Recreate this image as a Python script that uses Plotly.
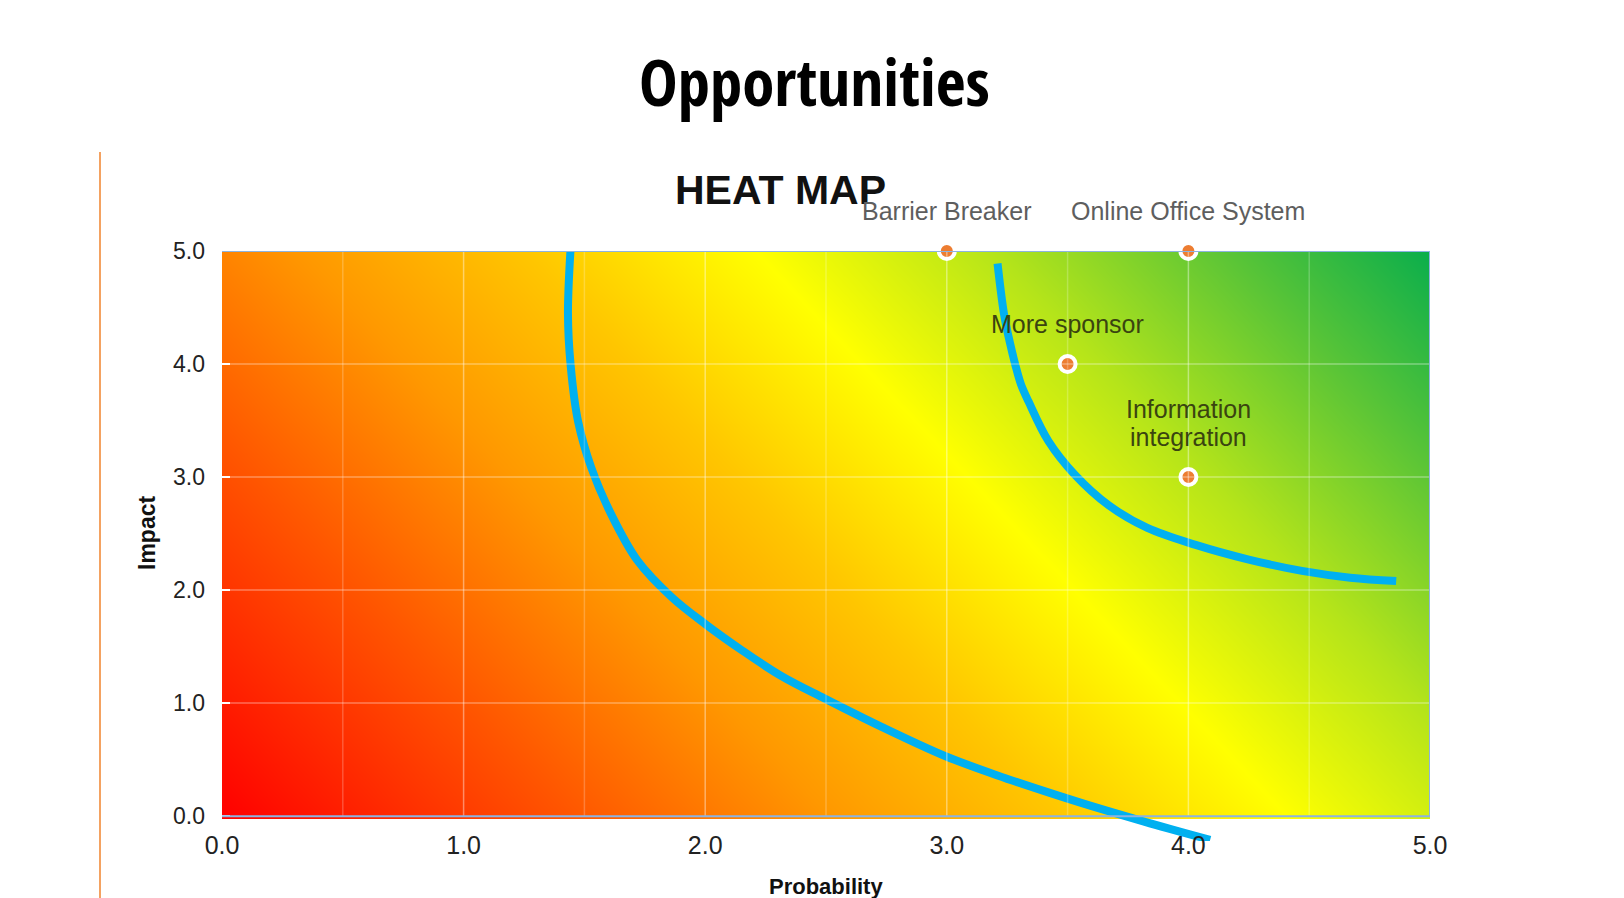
import numpy as np
import plotly.graph_objects as go

# Risk points (probability, impact)
point_names = ["Barrier Breaker", "Online Office System", "More sponsor", "Information<br>integration"]
point_prob = [3.0, 4.0, 3.5, 4.0]
point_impact = [5.0, 5.0, 4.0, 3.0]

# Hand drawn threshold curves
curve_low_x = [1.443, 1.432, 1.443, 1.474, 1.529, 1.611, 1.72, 1.86, 2.00, 2.15, 2.315, 2.495, 2.73,
               2.995, 3.21, 3.42, 3.59, 3.82, 4.09]
curve_low_y = [5.03, 4.44, 3.99, 3.49, 3.08, 2.67, 2.26, 1.94, 1.70, 1.47, 1.24, 1.04, 0.79,
               0.53, 0.36, 0.21, 0.095, -0.05, -0.21]
curve_high_x = [3.21, 3.237, 3.26, 3.284, 3.307, 3.338, 3.42, 3.53, 3.67, 3.83, 4.03, 4.25, 4.47, 4.67, 4.86]
curve_high_y = [4.89, 4.44, 4.20, 3.99, 3.82, 3.67, 3.32, 3.02, 2.75, 2.55, 2.40, 2.27, 2.17, 2.11, 2.08]

x_ticks = [0, 1, 2, 3, 4, 5]
y_ticks = [0, 1, 2, 3, 4, 5]

W, H = 1624, 898
L, R, T, B = 214, 202, 243, 65
Y_MIN, Y_MAX = -0.22, 5.0


def px(x):
    return (x - L) / (W - L - R)


def py(y):
    return (H - B - y) / (H - T - B)


# background gradient: red bottom-left -> yellow -> green top-right
gx = np.linspace(0, 5, 101)
gy = np.linspace(0, 5, 101)
gz = gx[None, :] + 0.44 * gy[:, None]

fig = go.Figure()
fig.add_trace(go.Heatmap(
    x=gx, y=gy, z=gz, zsmooth="best", showscale=False, hoverinfo="skip",
    colorscale=[
        [0.0, "#FF0000"], [0.2, "#FF5500"], [0.35, "#FF9800"], [0.48, "#FFC600"],
        [0.612, "#FFFF00"], [0.75, "#B4E41A"], [0.88, "#5CC536"], [1.0, "#0AAE4C"],
    ],
))

for cx, cy in [(curve_low_x, curve_low_y), (curve_high_x, curve_high_y)]:
    fig.add_trace(go.Scatter(
        x=cx, y=cy, mode="lines", line=dict(color="#00B0F0", width=8, shape="spline", smoothing=1.0),
        hoverinfo="skip", showlegend=False,
    ))
fig.add_trace(go.Scatter(
    x=point_prob, y=point_impact, mode="markers", cliponaxis=False,
    marker=dict(size=16, color="#ED7D31", line=dict(color="white", width=4)),
    hoverinfo="skip", showlegend=False,
))

shapes = []
# grid lines drawn above the gradient
for gxl in np.arange(0.5, 5.0, 0.5):
    op = 0.4 if gxl % 1 == 0 else 0.22
    shapes.append(dict(type="line", xref="x", yref="y", x0=gxl, x1=gxl, y0=0, y1=5,
                       line=dict(color=f"rgba(255,255,255,{op})", width=1.5), layer="above"))
for gyl in range(1, 5):
    shapes.append(dict(type="line", xref="x", yref="y", x0=0, x1=5, y0=gyl, y1=gyl,
                       line=dict(color="rgba(255,255,255,0.35)", width=1.5), layer="above"))
# plot frame: top, right, bottom
for x0, x1, y0, y1 in [(0, 5, 5, 5), (5, 5, 0, 5), (0, 5, 0, 0)]:
    shapes.append(dict(type="line", xref="x", yref="y", x0=x0, x1=x1, y0=y0, y1=y1,
                       line=dict(color="#8DB3E0", width=2), layer="above"))
# orange slide rule at the left
shapes.append(dict(type="line", xref="paper", yref="paper", x0=px(92), x1=px(92), y0=py(144), y1=py(898),
                   line=dict(color="#F4A261", width=2)))

annotations = [
    dict(text="Opportunities", xref="paper", yref="paper", x=px(806), y=py(73), showarrow=False,
         font=dict(family="'Open Sans Condensed', 'Roboto Condensed', sans-serif", size=65,
                   color="#000000", weight=700),
         xanchor="center", yanchor="middle"),
    dict(text="HEAT MAP", xref="paper", yref="paper", x=px(772), y=py(182), showarrow=False,
         font=dict(family="Liberation Sans", size=41, color="#111111", weight=700),
         xanchor="center", yanchor="middle"),
    dict(text="Probability", xref="paper", yref="paper", x=px(818), y=py(878), showarrow=False,
         font=dict(family="Liberation Sans", size=22, color="#111111", weight=700),
         xanchor="center", yanchor="middle"),
    dict(text="Impact", xref="paper", yref="paper", x=px(139), y=py(525), showarrow=False, textangle=-90,
         font=dict(family="Liberation Sans", size=23, color="#111111", weight=700),
         xanchor="center", yanchor="middle"),
]
for name, xv, yv in zip(point_names, point_prob, point_impact):
    top = yv >= 5
    lines = name.split("<br>")
    for i, line_text in enumerate(lines):
        annotations.append(dict(
            text=line_text, x=xv, y=yv, xref="x", yref="y", showarrow=False,
            xanchor="center", yanchor="middle", yshift=40 + 28 * (len(lines) - 1 - i),
            font=dict(family="Liberation Sans", size=25, color="#5E5E5E" if top else "#3A4410"),
        ))

fig.update_layout(
    width=W, height=H,
    margin=dict(l=L, r=R, t=T, b=B),
    paper_bgcolor="white", plot_bgcolor="white",
    showlegend=False,
    shapes=shapes, annotations=annotations,
    xaxis=dict(range=[0, 5], tickvals=x_ticks, tickformat=".1f", showgrid=False, zeroline=False,
               showline=False, ticks="", anchor="free", position=(0 - Y_MIN) / (Y_MAX - Y_MIN),
               ticklabelstandoff=12,
               tickfont=dict(family="Liberation Sans", size=25, color="#222222")),
    yaxis=dict(range=[Y_MIN, Y_MAX], tickvals=y_ticks, tickformat=".1f", showgrid=False, zeroline=False,
               showline=False, ticks="inside", ticklen=8, tickwidth=2, tickcolor="white",
               ticklabelstandoff=16,
               tickfont=dict(family="Liberation Sans", size=23, color="#222222")),
)

fig.write_html("out.html")
